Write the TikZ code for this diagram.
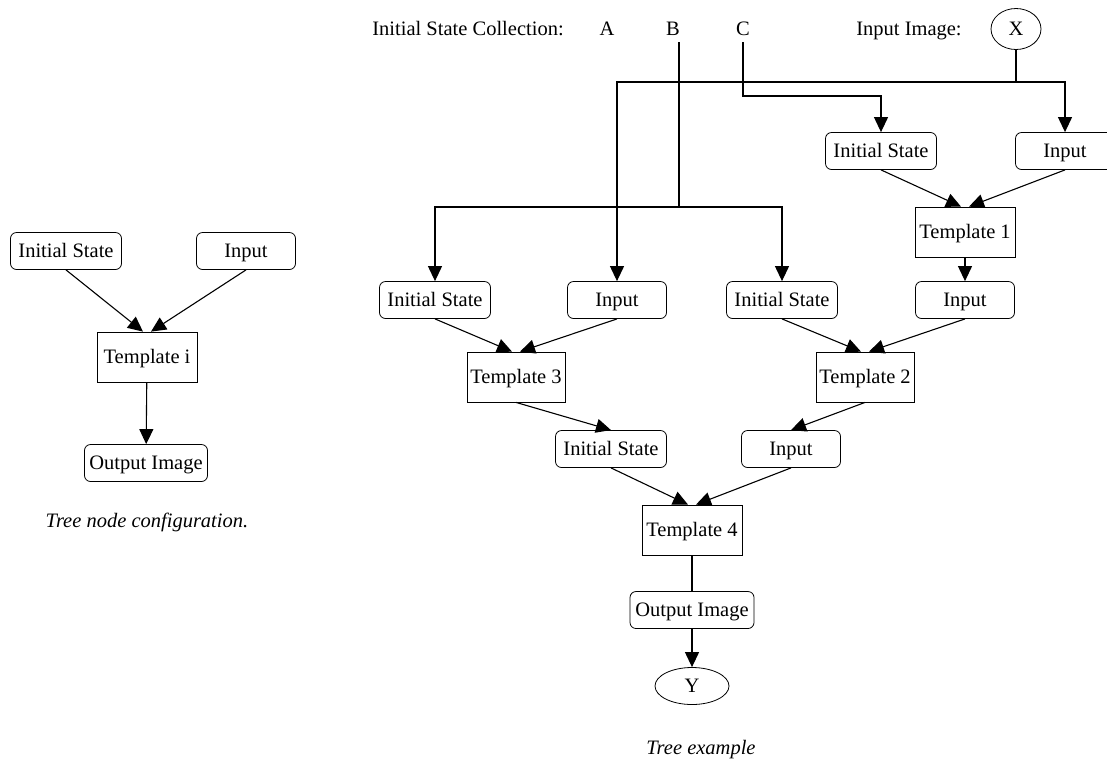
\documentclass[tikz,border=0pt]{standalone}
\usepackage{fontspec}
\setmainfont{Liberation Serif}
\usetikzlibrary{arrows.meta,positioning,shapes.geometric}

\begin{document}
\begin{tikzpicture}[
  x=0.5pt, y=-0.5pt,
  font=\fontsize{10.25}{12}\selectfont,
  state/.style={draw, rounded corners=3pt, minimum height=18.5pt, inner sep=1pt,
    text height=0.74em, text depth=0.1em},
  tmpl/.style={draw, minimum width=49pt, minimum height=25pt, inner sep=1pt,
    text height=0.74em, text depth=0.1em},
  term/.style={draw, ellipse, inner sep=0pt},
  label/.style={anchor=base},
  caption/.style={font=\fontsize{10.25}{12}\selectfont\itshape},
  link/.style={line width=0.55pt},
  arrow/.style={link, -{Triangle[length=7.5pt, width=7pt]}}
]
\useasboundingbox (0,0) rectangle (1107,762);

% single tree node
\node[state, minimum width=55.5pt] (state0) at (66,251) {Initial State};
\node[state, minimum width=49.5pt] (input0) at (246,251) {Input};
\node[tmpl, minimum width=50pt] (tmpl0) at (147,357) {Template i};
\node[state, minimum width=61.5pt] (out0) at (146,463) {Output Image};
\node[caption] (cap0) at (147,522) {Tree node configuration.};

\draw[arrow] (state0.south) -- ([xshift=-2pt]tmpl0.north);
\draw[arrow] (input0.south) -- ([xshift=2pt]tmpl0.north);
\draw[arrow] (tmpl0) -- (out0);

% header row
\node[label] (collect) at (468,35) {Initial State Collection:};
\node[label] (A) at (607,35) {A};
\node[label] (B) at (673,35) {B};
\node[label] (C) at (743,35) {C};
\node[label] (inimg) at (909,35) {Input Image:};
\node[term, minimum width=25pt, minimum height=20.5pt] (X) at (1016,29) {X};

% tree
\node[state, minimum width=55.5pt] (state1) at (881,151) {Initial State};
\node[state, minimum width=49.5pt] (input1) at (1065,151) {Input};
\node[tmpl, minimum width=50pt] (tmpl1) at (965,232) {Template 1};
\node[state, minimum width=49.5pt] (input2) at (965,300) {Input};

\node[state, minimum width=55.5pt] (state2) at (435,300) {Initial State};
\node[state, minimum width=49.5pt] (input3) at (617,300) {Input};
\node[state, minimum width=55.5pt] (state3) at (782,300) {Initial State};

\node[tmpl] (tmpl3) at (516,377) {Template 3};
\node[tmpl] (tmpl2) at (865,377) {Template 2};

\node[state, minimum width=55.5pt] (state4) at (611,449) {Initial State};
\node[state, minimum width=49.5pt] (input4) at (791,449) {Input};
\node[tmpl, minimum width=50pt] (tmpl4) at (692,530) {Template 4};
\node[state, minimum width=62pt] (out1) at (692,610) {Output Image};
\node[term, minimum width=37pt, minimum height=18.5pt] (Y) at (692,686) {Y};
\node[caption] (cap1) at (701,750) {Tree example};

% routing from the header
\coordinate (xsplit) at (1016,82);
\coordinate (cbend) at (743,96);
\coordinate (bsplit) at (679,207);

\draw[link] (X.south) -- (xsplit);
\draw[arrow] (xsplit) -| (input1.north);
\draw[arrow] (xsplit) -| (input3.north);
\draw[arrow] (C.south) -- (cbend) -| (state1.north);
\draw[link] ([xshift=3pt]B.south) -- (bsplit);
\draw[arrow] (bsplit) -| (state2.north);
\draw[arrow] (bsplit) -| (state3.north);

% inside the tree
\draw[arrow] (state1.south) -- ([xshift=-2pt]tmpl1.north);
\draw[arrow] (input1.south) -- ([xshift=2pt]tmpl1.north);
\draw[arrow] (tmpl1) -- (input2);

\draw[arrow] (state2.south) -- ([xshift=-2pt]tmpl3.north);
\draw[arrow] (input3.south) -- ([xshift=2pt]tmpl3.north);
\draw[arrow] (state3.south) -- ([xshift=-2pt]tmpl2.north);
\draw[arrow] (input2.south) -- ([xshift=2pt]tmpl2.north);

\draw[arrow] (tmpl3.south) -- (state4.north);
\draw[arrow] (tmpl2.south) -- (input4.north);

\draw[arrow] (state4.south) -- ([xshift=-2pt]tmpl4.north);
\draw[arrow] (input4.south) -- ([xshift=2pt]tmpl4.north);
\draw[link] (tmpl4) -- (out1);
\draw[arrow] (out1) -- (Y);

\end{tikzpicture}
\end{document}
